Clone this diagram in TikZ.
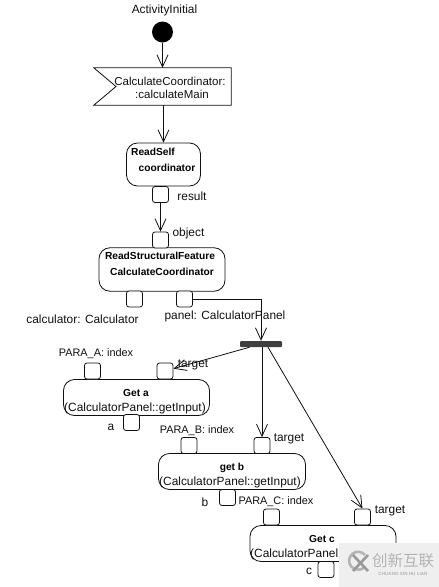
\documentclass[tikz,border=0pt]{standalone}
\usepackage{fontspec}
\usepackage{xcolor}
\usepackage{tikz}
\usetikzlibrary{arrows.meta, positioning, shapes.geometric}
\setmainfont{Liberation Sans}
\newfontfamily\cjk{Noto Sans CJK SC}
\definecolor{umlLine}{HTML}{101010}
\definecolor{umlFork}{HTML}{404040}
\definecolor{markPatch}{HTML}{EFEFEF}
\definecolor{markText}{HTML}{B4B4B4}
\begin{document}
\begin{tikzpicture}[
  x=1pt, y=-1pt,
  font=\fontsize{11.9}{13}\selectfont,
  action/.style={draw=umlLine, rounded corners=11pt, line width=0.8pt, fill=white, inner sep=0pt},
  pin/.style={draw=umlLine, rounded corners=2.5pt, line width=0.8pt, fill=white,
              minimum width=16pt, minimum height=16pt, inner sep=0pt},
  lbl/.style={inner sep=0pt, text=umlLine, yshift=-1.2pt},
  paralbl/.style={lbl, yshift=0.6pt, font=\fontsize{10.9}{13}\selectfont},
  evlbl/.style={lbl, font=\fontsize{11.5}{13}\selectfont},
  title/.style={inner sep=0pt, yshift=-0.6pt, font=\fontsize{10.2}{13}\selectfont\bfseries},
  flow/.style={-{Straight Barb[length=12pt,width=11pt]}, line width=0.8pt, draw=umlLine}
]
\useasboundingbox (0,0) rectangle (439,587);

\node[lbl] (initlabel) at (164.5,9) {ActivityInitial};
\node[circle, fill=black, minimum size=21pt, inner sep=0pt] (init) at (162.5,32) {};

\node[minimum width=137pt, minimum height=37pt, inner sep=0pt] (event) at (162.5,86.5) {};
\coordinate (notch) at (116,86.5);
\draw[line width=0.8pt, draw=umlLine] (event.north west) -- (event.north east) -- (event.south east)
  -- (event.south west) -- (notch) -- cycle;
\node[evlbl] (eventtxt1) at (170,80) {CalculateCoordinator:};
\node[evlbl] (eventtxt2) at (172,93) {:calculateMain};
\draw[flow] (init) -- (event.north -| init);

\node[action, minimum width=74pt, minimum height=43pt] (readself) at (163.5,164.5) {};
\node[title] (readselfa) at (153,151.5) {ReadSelf};
\node[title] (readselfb) at (167,167) {coordinator};
\draw[flow] (event.south -| readself) -- (readself.north);

\node[pin] (result) at (160.5,194.5) {};
\node[lbl] (resultlabel) at (192,195) {result};

\node[action, minimum width=126pt, minimum height=43.5pt] (readfeature) at (162,269.5) {};
\node[pin] (object) at (160.5,240) {};
\node[lbl] (objectlabel) at (188.5,232) {object};
\node[title] (featurea) at (160,255.5) {ReadStructuralFeature};
\node[title] (featureb) at (162,271) {CalculateCoordinator};
\draw[flow] (result) -- (object.north);

\node[pin] (calculator) at (134.5,299) {};
\node[pin] (panel) at (184.5,299) {};
\node[lbl] (calculatorlabel) at (82.5,318) {calculator: Calculator};
\node[lbl] (panellabel) at (225,315) {panel: CalculatorPanel};

\node[fill=umlFork, rounded corners=1pt, minimum width=42pt, minimum height=6pt, inner sep=0pt] (fork) at (261,344) {};
\draw[flow] (panel.east) -| (fork.north);

% get a
\node[action, minimum width=146pt, minimum height=36pt] (geta) at (136.5,397.5) {};
\node[pin] (paraa) at (92.5,371) {};
\node[pin] (targeta) at (165,371) {};
\node[pin] (outa) at (131.5,422.5) {};
\node[paralbl] (paraalabel) at (96,353) {PARA\_A: index};
\node[lbl] (targetalabel) at (193,364) {target};
\node[title] (getaa) at (136,392) {Get a};
\node[lbl] (getab) at (135,407) {(CalculatorPanel::getInput)};
\node[lbl] (outalabel) at (111,426) {a};
\draw[flow] (fork) -- (targeta);

% get b
\node[action, minimum width=147pt, minimum height=36pt] (getb) at (232,471.5) {};
\node[pin] (parab) at (189,445.5) {};
\node[pin] (targetb) at (262,445.5) {};
\node[pin] (outb) at (227.5,497.5) {};
\node[paralbl] (parablabel) at (197,430) {PARA\_B: index};
\node[lbl] (targetblabel) at (289,438) {target};
\node[title] (getba) at (232,467) {get b};
\node[lbl] (getbb) at (230,481) {(CalculatorPanel::getInput)};
\node[lbl] (outblabel) at (205,501) {b};
\draw[flow] (fork.south -| targetb) -- (targetb.north);

% get c
\node[action, minimum width=146pt, minimum height=36pt] (getc) at (323,543.5) {};
\node[pin] (parac) at (271.5,517) {};
\node[pin] (targetc) at (362.5,517) {};
\node[pin] (outc) at (326,569.5) {};
\node[paralbl] (paraclabel) at (276,501) {PARA\_C: index};
\node[lbl] (targetclabel) at (390,510) {target};
\node[title] (getca) at (322,538) {Get c};
\node[lbl, anchor=west] (getcb) at (250,553) {(CalculatorPanel::};
\node[lbl] (outclabel) at (309,570) {c};
\draw[flow] ([xshift=7pt]fork.south) -- (targetc.north);

% corner mark
\node[fill=markPatch, minimum width=100pt, minimum height=44pt, inner sep=0pt] (markbox) at (389,565) {};
\draw[markText, line width=2.6pt] (365,555) arc[start angle=-40, end angle=-320, radius=9pt,  y radius=-9pt];
\draw[markText!85!black, line width=2.6pt] (353,555) -- (368,571) (368,555) -- (353,571);
\node[inner sep=0pt, text=markText, font=\cjk\fontsize{15.5}{17}\selectfont] (marktext) at (403,561) {创新互联};
\node[inner sep=0pt, text=markText, font=\fontsize{4.6}{5}\selectfont\bfseries] (marksub) at (403,574) {CHUANG XIN HU LIAN};
\end{tikzpicture}
\end{document}
